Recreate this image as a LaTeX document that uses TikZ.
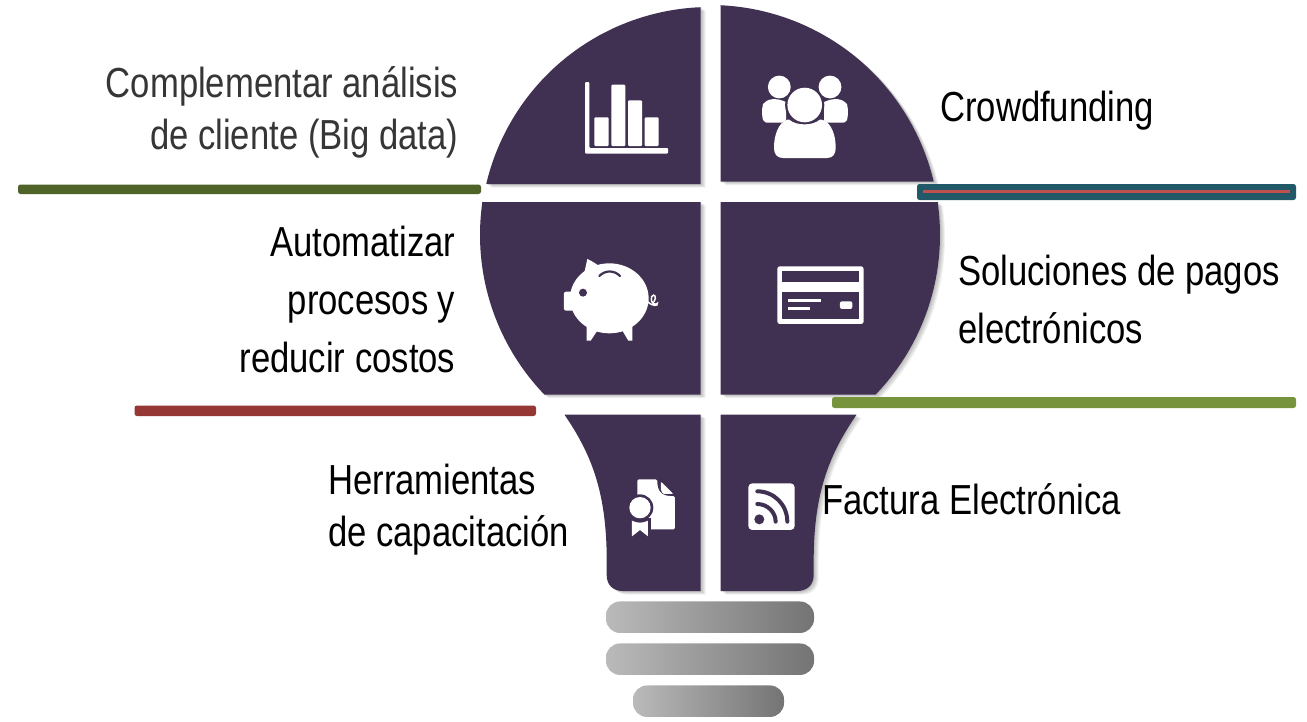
\documentclass[tikz,border=0pt]{standalone}
\usepackage{fontspec}
\setmainfont{Liberation Sans}
\newfontfamily\narrowfont[FakeStretch=0.825]{Liberation Sans}
\definecolor{bulbcol}{HTML}{403152}
\definecolor{bargreen}{HTML}{4F6228}
\definecolor{barred}{HTML}{953735}
\definecolor{barteal}{HTML}{215968}
\definecolor{barcoral}{HTML}{C0504D}
\definecolor{barolive}{HTML}{77933C}
\definecolor{basel}{HTML}{BABABA}
\definecolor{baser}{HTML}{747474}
\definecolor{greytext}{HTML}{363636}
\tikzset{
  x=1pt,y=-1pt,
  label text/.style={font=\narrowfont\fontsize{42}{52}\selectfont,inner sep=0pt,text=black},
  wide text/.style={font=\narrowfont\fontsize{42}{58}\selectfont,inner sep=0pt,text=black},
  base bar/.style={left color=basel,right color=baser,rounded corners=14pt,draw=none},
  bar line/.style={rounded corners=2.5pt,draw=none},
  icon/.style={fill=white,draw=none},
  icon cut/.style={fill=bulbcol,draw=none},
}
\newcommand{\softfill}[1]{%
  \foreach \o in {5,4,3,2,1}{\fill[black,opacity=.055,shift={(\o,\o*.7)}] #1;}
  \fill[bulbcol] #1;}
\begin{document}
\begin{tikzpicture}
\useasboundingbox (0,0) rectangle (1307,721);
\fill[white] (0,0) rectangle (1307,721);

% bulb quarters
\softfill{(700.5,7.3) -- plot[domain=-92.4:-166.6,samples=70] ({710+230*cos(\x)},{237+230*sin(\x)}) -- (487.5,184) -- (700.5,184) -- cycle}
\softfill{(720.5,5.5) -- plot[domain=-87.5:-13.4,samples=70] ({710+230*cos(\x)},{235+230*sin(\x)}) -- (933,181.5) -- (720.5,181.5) -- cycle}
\softfill{(700.5,202) -- (482,202) -- plot[domain=188:136,samples=70] ({710+230*cos(\x)},{235+230*sin(\x)}) -- (546,394.5) -- (700.5,394.5) -- cycle}
\softfill{(720.5,202) -- (938,202) -- plot[domain=-8:44,samples=70] ({710+230*cos(\x)},{235+230*sin(\x)}) -- (875,394.5) -- (720.5,394.5) -- cycle}
% neck
\softfill{(700.5,414.7) -- (564.5,414.7) .. controls (590,452) and (606.7,490) .. (606.7,560) -- (606.7,575) .. controls (606.7,585) and (613,591) .. (623,591) -- (700.5,591) -- cycle}
\softfill{(720.5,414.7) -- (856.5,414.7) .. controls (831,452) and (813.7,490) .. (813.7,560) -- (813.7,575) .. controls (813.7,585) and (807,591) .. (797,591) -- (720.5,591) -- cycle}

% screw base
\node[base bar,minimum width=208pt,minimum height=31.5pt,inner sep=0pt] (base1) at (710,617.2) {};
\node[base bar,minimum width=208pt,minimum height=31.5pt,inner sep=0pt] (base2) at (710,659.2) {};
\node[base bar,minimum width=151pt,minimum height=31.5pt,inner sep=0pt] (base3) at (708.5,701.2) {};

% separator bars
\fill[bargreen,bar line] (18,184.5) rectangle (481,194);
\fill[barred,bar line] (134.5,405.5) rectangle (536,416);
\fill[barteal,bar line] (917,184) rectangle (1296,200);
\fill[barcoral] (923,190) rectangle (1290,192.8);
\fill[barolive,bar line] (832,397) rectangle (1296,408);

% bar chart icon
\fill[icon,rounded corners=1pt] (585,82) -- (589.3,82) -- (589.3,148) -- (668,148) -- (668,153.7) -- (585,153.7) -- cycle;
\fill[icon,rounded corners=1pt] (594.3,117.3) rectangle (608.7,146);
\fill[icon,rounded corners=1pt] (611.3,84.7) rectangle (625.3,146);
\fill[icon,rounded corners=1pt] (628,100.3) rectangle (642,146);
\fill[icon,rounded corners=1pt] (644.7,117.3) rectangle (658.7,146);

% people icon
\fill[icon] (779.3,87) circle[radius=11.4];
\fill[icon] (830,87) circle[radius=11.4];
\fill[icon] (786,102) .. controls (775,97) and (767,99) .. (763,104) .. controls (761.5,110) and (762,117) .. (763,120) .. controls (764,122.7) and (766,122.7) .. (770,122.7) -- (786,122.7) -- cycle;
\fill[icon] (824,102) .. controls (835,97) and (843,99) .. (847,104) .. controls (848.5,110) and (848,117) .. (847,120) .. controls (846,122.7) and (844,122.7) .. (840,122.7) -- (824,122.7) -- cycle;
\fill[icon cut] (804.7,105) circle[radius=19.6];
\fill[icon cut] (772,158) .. controls (772,130) and (780,116) .. (804.7,116) .. controls (829,116) and (838,130) .. (838,158) -- cycle;
\fill[icon] (804.7,105) circle[radius=17.3];
\fill[icon] (774,148) .. controls (774,130) and (782,119.5) .. (789,119.5) .. controls (796,126) and (813,126) .. (820,119.5) .. controls (828,119.5) and (835.7,130) .. (835.7,148) .. controls (835.7,154) and (833,158) .. (827,158) -- (783,158) .. controls (777,158) and (774,154) .. (774,148) -- cycle;

% piggy bank icon
\begin{scope}[shift={(470,190)},x=.3333pt,y=-.3333pt]
\fill[icon] (418,325) ellipse[x radius=118,y radius=105];
\fill[icon,rounded corners=2pt] (320,305) -- (282,305) -- (282,362) -- (330,362) -- cycle;
\fill[icon] (340,262) -- (352,207) .. controls (370,215) and (385,225) .. (400,240) -- cycle;
\fill[icon] (350,395) -- (350,452) -- (362,452) -- (390,410) -- cycle;
\fill[icon] (450,410) -- (475,452) -- (487,452) -- (487,395) -- cycle;
\fill[icon cut] (339,308) circle[radius=12];
\draw[bulbcol,line width=2.2pt,line cap=round] (388,258) .. controls (405,240) and (433,240) .. (450,258);
\draw[white,line width=1.5pt,line cap=round] (533,335) .. controls (548,350) and (565,348) .. (562,340) .. controls (560,345) and (540,345) .. (545,320) .. controls (552,308) and (562,322) .. (552,335);
\end{scope}

% card icon
\begin{scope}[shift={(470,190)},x=.3333pt,y=-.3333pt]
\fill[icon,rounded corners=2.5pt] (922,229) rectangle (1181,402);
\fill[icon cut] (935,244) rectangle (1168,275);
\fill[icon cut] (935,307) rectangle (1168,388);
\fill[icon] (953,328) rectangle (1053,335);
\fill[icon] (953,352) rectangle (1021,359);
\fill[icon,rounded corners=2pt] (1110,334) rectangle (1147,357);
\end{scope}

% certificate icon
\begin{scope}[shift={(550,400)},x=.3333pt,y=-.3333pt]
\fill[icon,rounded corners=1.5pt] (262,238) -- (322,238) .. controls (322,270) and (330,290) .. (375,288) -- (375,388) -- (262,388) -- cycle;
\fill[icon,rounded corners=1pt] (333,245) -- (370,282) -- (345,282) .. controls (338,282) and (333,275) .. (333,265) -- cycle;
\fill[icon cut] (270,323) circle[radius=40];
\fill[icon cut] (238,355) rectangle (302,415);
\fill[icon] (270,323) circle[radius=32];
\fill[icon] (246,362) -- (246,409) -- (270,390) -- (294,409) -- (294,362) .. controls (280,370) and (260,370) .. (246,362) -- cycle;
\end{scope}

% feed icon
\begin{scope}[shift={(550,400)},x=.3333pt,y=-.3333pt]
\fill[icon,rounded corners=4pt] (595,250) rectangle (734,390);
\fill[icon cut] (628,358) circle[radius=15];
\draw[bulbcol,line width=4pt,line cap=round] (622,312) .. controls (652,312) and (677,336) .. (677,365);
\draw[bulbcol,line width=4pt,line cap=round] (622,274) .. controls (672,274) and (712,314) .. (712,365);
\end{scope}

% labels
\node[label text,text=greytext,align=right,anchor=east] (t1) at (458.5,112.5) {Complementar análisis\\de cliente (Big data)};
\node[label text,anchor=west] (t2) at (940,111) {Crowdfunding};
\node[wide text,align=right,anchor=east] (t3) at (455.5,299) {Automatizar\\procesos y\\reducir costos};
\node[wide text,align=left,anchor=west] (t4) at (958,299) {Soluciones de pagos\\electrónicos};
\node[label text,align=left,anchor=west] (t5) at (328,509.5) {Herramientas\\de capacitación};
\node[label text,anchor=west] (t6) at (822,499) {Factura Electrónica};
\end{tikzpicture}
\end{document}
